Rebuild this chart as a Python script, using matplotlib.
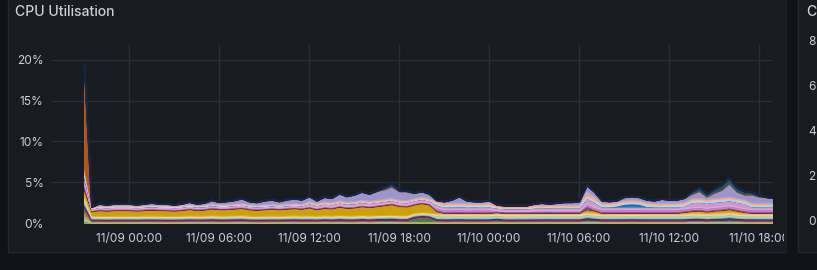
"""Grafana style stacked CPU utilisation panel."""

import matplotlib

matplotlib.use("Agg")
import matplotlib.dates as mdates
import matplotlib.pyplot as plt
import pandas as pd
from matplotlib.colors import to_rgba
from matplotlib.lines import Line2D
from matplotlib.patches import Rectangle
from matplotlib.ticker import FuncFormatter

W, H = 817, 270

# sample times, every 30 min from 11/08 21:00
times = pd.date_range("2024-11-08 21:00", periods=93, freq="30min")
x_start = pd.Timestamp("2024-11-08 18:52")
x_end = pd.Timestamp("2024-11-10 18:52")
tick_times = pd.date_range("2024-11-09 00:00", periods=8, freq="6h")
y_ticks = [0, 5, 10, 15, 20]

# per-container CPU %, bottom of the stack first
green = [0.30, 0.06, 0.06, 0.05, 0.06, 0.06,
         0.06, 0.06, 0.07, 0.06, 0.06, 0.05, 0.06, 0.06, 0.06, 0.07, 0.06, 0.06,
         0.06, 0.06, 0.06, 0.07, 0.06, 0.06, 0.05, 0.06, 0.06, 0.06, 0.07, 0.06,
         0.06, 0.06, 0.07, 0.06, 0.06, 0.06, 0.06, 0.07, 0.06, 0.06, 0.07, 0.07,
         0.06, 0.06, 0.07, 0.06, 0.06, 0.06, 0.05, 0.06, 0.06, 0.06, 0.06, 0.05,
         0.06, 0.06, 0.06, 0.05, 0.06, 0.06, 0.06, 0.06, 0.07, 0.06, 0.06, 0.06,
         0.06, 0.08, 0.07, 0.06, 0.06, 0.06, 0.06, 0.07, 0.06, 0.06, 0.06, 0.06,
         0.06, 0.06, 0.06, 0.07, 0.07, 0.06, 0.07, 0.07, 0.08, 0.07, 0.06, 0.06,
         0.06, 0.06, 0.06]
light_yellow = [0.20, 0.05, 0.05, 0.05, 0.05, 0.05,
                0.05, 0.05, 0.05, 0.04, 0.05, 0.05, 0.05, 0.05, 0.06, 0.05, 0.05, 0.05,
                0.05, 0.05, 0.05, 0.05, 0.05, 0.04, 0.05, 0.05, 0.05, 0.05, 0.05, 0.05,
                0.05, 0.05, 0.06, 0.05, 0.05, 0.05, 0.05, 0.05, 0.05, 0.06, 0.06, 0.06,
                0.05, 0.05, 0.05, 0.05, 0.05, 0.05, 0.05, 0.05, 0.05, 0.04, 0.05, 0.05,
                0.05, 0.05, 0.05, 0.05, 0.05, 0.05, 0.05, 0.05, 0.05, 0.05, 0.05, 0.05,
                0.05, 0.07, 0.06, 0.05, 0.05, 0.05, 0.05, 0.05, 0.05, 0.05, 0.05, 0.05,
                0.05, 0.05, 0.05, 0.06, 0.06, 0.05, 0.06, 0.06, 0.07, 0.06, 0.05, 0.05,
                0.05, 0.05, 0.05]
cyan = [0.30, 0.07, 0.07, 0.07, 0.07, 0.07,
        0.07, 0.07, 0.07, 0.08, 0.07, 0.07, 0.07, 0.07, 0.07, 0.07, 0.08, 0.07,
        0.07, 0.07, 0.08, 0.07, 0.07, 0.07, 0.07, 0.07, 0.07, 0.08, 0.07, 0.07,
        0.07, 0.07, 0.07, 0.07, 0.08, 0.07, 0.07, 0.08, 0.07, 0.08, 0.08, 0.09,
        0.08, 0.07, 0.07, 0.07, 0.07, 0.07, 0.07, 0.07, 0.07, 0.07, 0.07, 0.07,
        0.07, 0.07, 0.07, 0.07, 0.07, 0.07, 0.07, 0.07, 0.07, 0.07, 0.07, 0.07,
        0.07, 0.09, 0.08, 0.07, 0.07, 0.07, 0.07, 0.07, 0.07, 0.07, 0.07, 0.07,
        0.07, 0.07, 0.07, 0.08, 0.08, 0.07, 0.08, 0.08, 0.09, 0.08, 0.07, 0.07,
        0.07, 0.07, 0.07]
orange = [0.50, 0.05, 0.05, 0.05, 0.05, 0.05,
          0.05, 0.05, 0.05, 0.05, 0.05, 0.05, 0.05, 0.05, 0.05, 0.05, 0.05, 0.06,
          0.05, 0.05, 0.05, 0.06, 0.05, 0.05, 0.05, 0.05, 0.05, 0.05, 0.05, 0.05,
          0.05, 0.05, 0.05, 0.05, 0.06, 0.05, 0.05, 0.06, 0.05, 0.06, 0.06, 0.06,
          0.05, 0.05, 0.05, 0.05, 0.05, 0.05, 0.05, 0.05, 0.06, 0.05, 0.05, 0.05,
          0.05, 0.05, 0.05, 0.05, 0.05, 0.05, 0.05, 0.05, 0.05, 0.05, 0.05, 0.05,
          0.05, 0.07, 0.06, 0.05, 0.05, 0.05, 0.05, 0.05, 0.05, 0.05, 0.05, 0.05,
          0.05, 0.05, 0.05, 0.06, 0.06, 0.05, 0.06, 0.06, 0.07, 0.06, 0.05, 0.05,
          0.05, 0.05, 0.05]
dark_green = [0.20, 0.03, 0.03, 0.03, 0.03, 0.03,
              0.03, 0.03, 0.03, 0.03, 0.03, 0.03, 0.03, 0.03, 0.03, 0.03, 0.03, 0.03,
              0.03, 0.03, 0.03, 0.03, 0.03, 0.03, 0.03, 0.03, 0.03, 0.03, 0.03, 0.03,
              0.03, 0.03, 0.03, 0.03, 0.03, 0.03, 0.03, 0.03, 0.03, 0.03, 0.03, 0.03,
              0.03, 0.05, 0.35, 0.45, 0.40, 0.05, 0.03, 0.03, 0.03, 0.03, 0.03, 0.03,
              0.03, 0.12, 0.03, 0.03, 0.03, 0.03, 0.03, 0.03, 0.03, 0.03, 0.03, 0.03,
              0.03, 0.03, 0.03, 0.03, 0.03, 0.03, 0.03, 0.03, 0.03, 0.03, 0.03, 0.03,
              0.03, 0.03, 0.03, 0.03, 0.03, 0.03, 0.03, 0.03, 0.03, 0.03, 0.03, 0.03,
              0.03, 0.03, 0.03]
red = [0.30, 0.06, 0.06, 0.06, 0.06, 0.06,
       0.06, 0.06, 0.06, 0.06, 0.06, 0.06, 0.06, 0.06, 0.06, 0.06, 0.06, 0.07,
       0.06, 0.06, 0.06, 0.07, 0.06, 0.06, 0.06, 0.06, 0.06, 0.06, 0.06, 0.06,
       0.06, 0.06, 0.06, 0.06, 0.07, 0.06, 0.06, 0.07, 0.06, 0.07, 0.07, 0.07,
       0.06, 0.06, 0.06, 0.06, 0.06, 0.06, 0.06, 0.06, 0.06, 0.06, 0.06, 0.06,
       0.06, 0.06, 0.06, 0.06, 0.06, 0.06, 0.06, 0.06, 0.06, 0.06, 0.06, 0.06,
       0.06, 0.08, 0.07, 0.06, 0.06, 0.06, 0.06, 0.06, 0.06, 0.06, 0.06, 0.06,
       0.06, 0.06, 0.06, 0.07, 0.07, 0.06, 0.07, 0.07, 0.08, 0.07, 0.06, 0.06,
       0.06, 0.06, 0.06]
dark_purple = [0.50, 0.22, 0.22, 0.21, 0.22, 0.22,
               0.22, 0.21, 0.22, 0.23, 0.22, 0.22, 0.21, 0.22, 0.23, 0.22, 0.22, 0.24,
               0.23, 0.23, 0.24, 0.24, 0.22, 0.22, 0.23, 0.23, 0.22, 0.23, 0.24, 0.23,
               0.24, 0.22, 0.24, 0.23, 0.25, 0.24, 0.24, 0.25, 0.24, 0.25, 0.26, 0.27,
               0.25, 0.25, 0.24, 0.25, 0.24, 0.25, 0.25, 0.25, 0.26, 0.25, 0.25, 0.25,
               0.25, 0.24, 0.24, 0.24, 0.24, 0.24, 0.25, 0.25, 0.25, 0.25, 0.25, 0.25,
               0.25, 0.30, 0.28, 0.25, 0.25, 0.25, 0.26, 0.26, 0.26, 0.25, 0.25, 0.25,
               0.25, 0.25, 0.26, 0.27, 0.28, 0.26, 0.27, 0.28, 0.30, 0.27, 0.26, 0.26,
               0.25, 0.25, 0.25]
steel = [0.30, 0.12, 0.12, 0.12, 0.12, 0.12,
         0.12, 0.12, 0.12, 0.12, 0.12, 0.12, 0.12, 0.12, 0.13, 0.12, 0.12, 0.13,
         0.12, 0.12, 0.13, 0.13, 0.12, 0.12, 0.12, 0.12, 0.12, 0.12, 0.13, 0.12,
         0.13, 0.12, 0.12, 0.12, 0.13, 0.12, 0.12, 0.13, 0.12, 0.13, 0.13, 0.14,
         0.13, 0.12, 0.12, 0.12, 0.12, 0.12, 0.12, 0.12, 0.12, 0.12, 0.12, 0.12,
         0.12, 0.12, 0.12, 0.12, 0.12, 0.12, 0.12, 0.12, 0.12, 0.12, 0.12, 0.12,
         0.12, 0.14, 0.13, 0.12, 0.12, 0.12, 0.12, 0.12, 0.12, 0.12, 0.12, 0.12,
         0.12, 0.12, 0.12, 0.13, 0.13, 0.12, 0.13, 0.13, 0.14, 0.13, 0.12, 0.12,
         0.12, 0.12, 0.12]
pale_green = [0.30, 0.10, 0.10, 0.10, 0.10, 0.10,
              0.10, 0.10, 0.10, 0.10, 0.10, 0.10, 0.10, 0.10, 0.10, 0.10, 0.10, 0.10,
              0.10, 0.10, 0.10, 0.10, 0.10, 0.10, 0.10, 0.10, 0.10, 0.10, 0.10, 0.10,
              0.10, 0.10, 0.10, 0.10, 0.10, 0.10, 0.10, 0.10, 0.10, 0.10, 0.10, 0.10,
              0.10, 0.10, 0.10, 0.10, 0.10, 0.25, 0.25, 0.25, 0.25, 0.25, 0.25, 0.25,
              0.25, 0.25, 0.25, 0.25, 0.25, 0.25, 0.25, 0.25, 0.25, 0.25, 0.25, 0.25,
              0.25, 0.25, 0.25, 0.25, 0.25, 0.25, 0.25, 0.25, 0.25, 0.25, 0.25, 0.25,
              0.25, 0.25, 0.25, 0.25, 0.25, 0.25, 0.25, 0.25, 0.25, 0.25, 0.25, 0.25,
              0.25, 0.25, 0.25]
cream = [0.30, 0.12, 0.12, 0.12, 0.12, 0.12,
         0.12, 0.12, 0.12, 0.12, 0.12, 0.12, 0.12, 0.12, 0.12, 0.12, 0.12, 0.12,
         0.12, 0.12, 0.12, 0.12, 0.12, 0.12, 0.12, 0.12, 0.12, 0.12, 0.12, 0.12,
         0.12, 0.12, 0.12, 0.12, 0.12, 0.12, 0.12, 0.12, 0.12, 0.12, 0.12, 0.12,
         0.12, 0.12, 0.12, 0.12, 0.12, 0.25, 0.25, 0.25, 0.25, 0.25, 0.25, 0.25,
         0.25, 0.25, 0.25, 0.25, 0.25, 0.25, 0.25, 0.25, 0.25, 0.25, 0.25, 0.25,
         0.25, 0.25, 0.25, 0.25, 0.25, 0.25, 0.25, 0.25, 0.25, 0.25, 0.25, 0.25,
         0.25, 0.25, 0.25, 0.25, 0.25, 0.25, 0.25, 0.25, 0.25, 0.25, 0.25, 0.25,
         0.25, 0.25, 0.25]
yellow = [0.80, 0.55, 0.70, 0.65, 0.70, 0.70,
          0.70, 0.65, 0.70, 0.75, 0.70, 0.70, 0.65, 0.70, 0.80, 0.70, 0.75, 0.85,
          0.80, 0.80, 0.85, 0.90, 0.80, 0.75, 0.80, 0.85, 0.80, 0.85, 0.90, 0.85,
          1.00, 0.80, 0.95, 0.90, 1.05, 0.95, 1.00, 1.10, 1.05, 1.10, 1.20, 1.30,
          1.15, 1.10, 1.05, 1.10, 1.00, 0.25, 0.05, 0.05, 0.05, 0.05, 0.05, 0.05,
          0.05, 0.05, 0.05, 0.05, 0.05, 0.05, 0.05, 0.05, 0.05, 0.05, 0.05, 0.05,
          0.05, 0.35, 0.25, 0.05, 0.05, 0.05, 0.05, 0.05, 0.05, 0.05, 0.05, 0.05,
          0.05, 0.05, 0.15, 0.20, 0.25, 0.20, 0.25, 0.30, 0.35, 0.25, 0.15, 0.05,
          0.05, 0.05, 0.05]
dark_red = [0.30, 0.07, 0.07, 0.07, 0.07, 0.07,
            0.07, 0.07, 0.07, 0.07, 0.07, 0.07, 0.07, 0.07, 0.07, 0.07, 0.07, 0.07,
            0.07, 0.07, 0.07, 0.07, 0.07, 0.07, 0.07, 0.07, 0.07, 0.07, 0.07, 0.07,
            0.07, 0.07, 0.07, 0.07, 0.07, 0.07, 0.07, 0.07, 0.07, 0.07, 0.07, 0.07,
            0.07, 0.07, 0.07, 0.07, 0.07, 0.07, 0.07, 0.07, 0.07, 0.07, 0.07, 0.07,
            0.07, 0.07, 0.07, 0.07, 0.07, 0.07, 0.07, 0.07, 0.07, 0.07, 0.07, 0.07,
            0.07, 0.07, 0.07, 0.07, 0.07, 0.07, 0.07, 0.07, 0.07, 0.07, 0.07, 0.07,
            0.07, 0.07, 0.07, 0.07, 0.07, 0.07, 0.07, 0.07, 0.07, 0.07, 0.07, 0.07,
            0.07, 0.07, 0.07]
purple = [0.40, 0.10, 0.10, 0.10, 0.10, 0.10,
          0.10, 0.10, 0.10, 0.10, 0.10, 0.10, 0.10, 0.10, 0.10, 0.10, 0.10, 0.10,
          0.10, 0.10, 0.10, 0.10, 0.10, 0.10, 0.10, 0.10, 0.10, 0.10, 0.10, 0.10,
          0.10, 0.10, 0.10, 0.10, 0.10, 0.10, 0.10, 0.10, 0.10, 0.10, 0.10, 0.10,
          0.10, 0.10, 0.10, 0.10, 0.10, 0.14, 0.14, 0.14, 0.14, 0.14, 0.14, 0.14,
          0.14, 0.14, 0.14, 0.14, 0.14, 0.14, 0.14, 0.14, 0.14, 0.14, 0.14, 0.14,
          0.14, 0.34, 0.14, 0.14, 0.14, 0.14, 0.14, 0.14, 0.14, 0.14, 0.14, 0.14,
          0.14, 0.14, 0.14, 0.14, 0.14, 0.14, 0.14, 0.14, 0.14, 0.14, 0.14, 0.14,
          0.14, 0.14, 0.14]
lilac = [0.20, 0.02, 0.08, 0.08, 0.08, 0.08,
         0.08, 0.08, 0.08, 0.08, 0.08, 0.08, 0.08, 0.08, 0.08, 0.08, 0.08, 0.08,
         0.08, 0.08, 0.08, 0.08, 0.08, 0.08, 0.08, 0.08, 0.08, 0.08, 0.08, 0.08,
         0.08, 0.08, 0.08, 0.08, 0.08, 0.08, 0.08, 0.08, 0.08, 0.08, 0.08, 0.08,
         0.08, 0.08, 0.08, 0.08, 0.08, 0.25, 0.25, 0.25, 0.25, 0.25, 0.25, 0.25,
         0.25, 0.05, 0.05, 0.05, 0.05, 0.05, 0.12, 0.12, 0.12, 0.12, 0.12, 0.12,
         0.12, 0.25, 0.25, 0.25, 0.25, 0.25, 0.25, 0.25, 0.25, 0.25, 0.25, 0.25,
         0.25, 0.25, 0.25, 0.25, 0.25, 0.25, 0.25, 0.25, 0.25, 0.25, 0.25, 0.25,
         0.25, 0.25, 0.25]
pink = [0.40, 0.15, 0.15, 0.15, 0.15, 0.15,
        0.15, 0.15, 0.15, 0.15, 0.15, 0.15, 0.15, 0.15, 0.15, 0.15, 0.15, 0.15,
        0.15, 0.15, 0.15, 0.15, 0.15, 0.15, 0.15, 0.15, 0.15, 0.15, 0.15, 0.15,
        0.25, 0.25, 0.25, 0.25, 0.25, 0.25, 0.25, 0.25, 0.25, 0.25, 0.25, 0.25,
        0.25, 0.25, 0.25, 0.25, 0.25, 0.30, 0.30, 0.30, 0.30, 0.30, 0.30, 0.30,
        0.30, 0.30, 0.30, 0.30, 0.30, 0.30, 0.30, 0.30, 0.30, 0.30, 0.30, 0.30,
        0.30, 0.70, 0.60, 0.30, 0.30, 0.30, 0.30, 0.30, 0.30, 0.30, 0.30, 0.30,
        0.30, 0.30, 0.30, 0.60, 0.60, 0.60, 0.60, 0.60, 0.60, 0.60, 0.60, 0.30,
        0.30, 0.30, 0.30]
blue = [0.50, 0.03, 0.03, 0.03, 0.03, 0.03,
        0.03, 0.03, 0.03, 0.03, 0.03, 0.03, 0.03, 0.03, 0.03, 0.03, 0.03, 0.03,
        0.03, 0.03, 0.03, 0.03, 0.03, 0.03, 0.03, 0.03, 0.03, 0.03, 0.03, 0.03,
        0.03, 0.03, 0.03, 0.03, 0.03, 0.03, 0.03, 0.03, 0.03, 0.03, 0.03, 0.03,
        0.03, 0.03, 0.03, 0.03, 0.03, 0.03, 0.03, 0.03, 0.03, 0.03, 0.03, 0.03,
        0.03, 0.03, 0.03, 0.03, 0.03, 0.03, 0.03, 0.03, 0.03, 0.03, 0.03, 0.03,
        0.03, 0.03, 0.03, 0.03, 0.03, 0.15, 0.35, 0.40, 0.35, 0.10, 0.03, 0.03,
        0.03, 0.03, 0.03, 0.03, 0.03, 0.03, 0.03, 0.03, 0.03, 0.03, 0.03, 0.03,
        0.03, 0.03, 0.03]
sky = [0.20, 0.02, 0.05, 0.05, 0.05, 0.05,
       0.05, 0.05, 0.05, 0.05, 0.05, 0.05, 0.05, 0.05, 0.05, 0.05, 0.05, 0.05,
       0.05, 0.05, 0.05, 0.05, 0.05, 0.05, 0.05, 0.05, 0.05, 0.05, 0.05, 0.05,
       0.05, 0.05, 0.05, 0.05, 0.05, 0.05, 0.05, 0.05, 0.05, 0.05, 0.05, 0.05,
       0.05, 0.05, 0.05, 0.05, 0.05, 0.20, 0.20, 0.20, 0.20, 0.20, 0.20, 0.20,
       0.20, 0.04, 0.04, 0.04, 0.04, 0.04, 0.10, 0.10, 0.10, 0.10, 0.10, 0.10,
       0.10, 0.20, 0.20, 0.20, 0.20, 0.20, 0.20, 0.20, 0.20, 0.20, 0.20, 0.20,
       0.20, 0.20, 0.20, 0.20, 0.20, 0.20, 0.20, 0.20, 0.20, 0.20, 0.20, 0.20,
       0.20, 0.20, 0.20]
salmon = [0.30, 0.12, 0.12, 0.12, 0.12, 0.12,
          0.12, 0.12, 0.12, 0.12, 0.12, 0.12, 0.12, 0.12, 0.12, 0.12, 0.12, 0.12,
          0.12, 0.12, 0.12, 0.12, 0.12, 0.12, 0.12, 0.12, 0.12, 0.12, 0.12, 0.12,
          0.20, 0.20, 0.20, 0.20, 0.20, 0.20, 0.20, 0.20, 0.20, 0.20, 0.20, 0.20,
          0.20, 0.20, 0.20, 0.20, 0.20, 0.25, 0.25, 0.25, 0.25, 0.25, 0.25, 0.25,
          0.25, 0.25, 0.25, 0.25, 0.25, 0.25, 0.25, 0.25, 0.25, 0.25, 0.25, 0.25,
          0.25, 0.55, 0.45, 0.25, 0.25, 0.25, 0.25, 0.25, 0.25, 0.25, 0.25, 0.25,
          0.25, 0.25, 0.25, 0.25, 0.25, 0.25, 0.25, 0.25, 0.25, 0.25, 0.25, 0.25,
          0.25, 0.25, 0.25]
lavender = [0.40, 0.01, 0.15, 0.10, 0.15, 0.15,
            0.15, 0.10, 0.15, 0.20, 0.15, 0.15, 0.10, 0.15, 0.25, 0.15, 0.20, 0.40,
            0.25, 0.35, 0.40, 0.55, 0.35, 0.30, 0.45, 0.50, 0.35, 0.50, 0.55, 0.50,
            0.57, 0.27, 0.52, 0.47, 0.82, 0.62, 0.77, 0.97, 0.82, 1.07, 1.16, 1.36,
            1.01, 1.07, 0.60, 0.65, 0.50, 0.05, 0.15, 0.35, 0.75, 0.25, 0.15, 0.15,
            0.25, 0.02, 0.01, 0.01, 0.01, 0.01, 0.08, 0.18, 0.08, 0.18, 0.28, 0.28,
            0.38, 0.75, 0.55, 0.25, 0.15, 0.13, 0.33, 0.38, 0.33, 0.28, 0.25, 0.45,
            0.35, 0.35, 0.45, 0.54, 0.84, 0.29, 0.64, 0.94, 1.59, 0.79, 0.59, 0.99,
            0.74, 0.65, 0.55]
brown = [12.6, 0.03, 0.03, 0.03, 0.03, 0.03,
         0.03, 0.03, 0.03, 0.03, 0.03, 0.03, 0.03, 0.03, 0.03, 0.03, 0.03, 0.03,
         0.03, 0.03, 0.03, 0.03, 0.03, 0.03, 0.03, 0.03, 0.03, 0.03, 0.03, 0.03,
         0.03, 0.03, 0.03, 0.03, 0.03, 0.03, 0.03, 0.03, 0.03, 0.03, 0.03, 0.03,
         0.03, 0.03, 0.03, 0.03, 0.03, 0.03, 0.03, 0.03, 0.03, 0.03, 0.03, 0.03,
         0.03, 0.03, 0.03, 0.03, 0.03, 0.03, 0.03, 0.03, 0.03, 0.03, 0.03, 0.03,
         0.03, 0.03, 0.03, 0.03, 0.03, 0.03, 0.03, 0.03, 0.03, 0.03, 0.03, 0.03,
         0.03, 0.03, 0.03, 0.03, 0.03, 0.03, 0.03, 0.03, 0.03, 0.03, 0.03, 0.03,
         0.03, 0.03, 0.03]
teal = [0.20, 0.04, 0.04, 0.04, 0.04, 0.04,
        0.04, 0.04, 0.04, 0.04, 0.04, 0.04, 0.04, 0.04, 0.04, 0.04, 0.04, 0.04,
        0.04, 0.04, 0.04, 0.04, 0.04, 0.04, 0.04, 0.04, 0.04, 0.04, 0.04, 0.04,
        0.04, 0.04, 0.04, 0.04, 0.04, 0.04, 0.04, 0.04, 0.04, 0.04, 0.25, 0.35,
        0.15, 0.04, 0.04, 0.04, 0.04, 0.04, 0.04, 0.04, 0.04, 0.04, 0.04, 0.04,
        0.04, 0.04, 0.04, 0.04, 0.04, 0.04, 0.04, 0.04, 0.04, 0.04, 0.04, 0.04,
        0.04, 0.04, 0.04, 0.04, 0.04, 0.04, 0.04, 0.04, 0.04, 0.04, 0.04, 0.04,
        0.04, 0.04, 0.04, 0.30, 0.45, 0.35, 0.45, 0.60, 0.70, 0.50, 0.40, 0.30,
        0.15, 0.04, 0.04]
navy = [0.10, 0.02, 0.02, 0.02, 0.02, 0.02,
        0.02, 0.02, 0.02, 0.02, 0.02, 0.02, 0.02, 0.02, 0.02, 0.02, 0.02, 0.02,
        0.02, 0.02, 0.02, 0.02, 0.02, 0.02, 0.02, 0.02, 0.02, 0.02, 0.02, 0.02,
        0.02, 0.02, 0.02, 0.02, 0.02, 0.02, 0.02, 0.02, 0.02, 0.02, 0.02, 0.02,
        0.02, 0.02, 0.02, 0.02, 0.02, 0.02, 0.02, 0.02, 0.02, 0.02, 0.02, 0.02,
        0.02, 0.02, 0.02, 0.02, 0.02, 0.02, 0.02, 0.02, 0.02, 0.02, 0.02, 0.02,
        0.02, 0.02, 0.02, 0.02, 0.02, 0.02, 0.02, 0.02, 0.02, 0.02, 0.02, 0.02,
        0.02, 0.02, 0.02, 0.02, 0.02, 0.02, 0.02, 0.02, 0.02, 0.02, 0.02, 0.02,
        0.02, 0.02, 0.02]

layers = [green, light_yellow, cyan, orange, dark_green, red, dark_purple, steel,
          pale_green, cream, yellow, dark_red, purple, lilac, pink, blue, sky,
          salmon, lavender, brown, teal, navy]
colors = ["#7EB26D", "#EAB839", "#6ED0E0", "#EF843C", "#508642", "#E24D42",
          "#4B2F72", "#82B5D8", "#B7DBAB", "#F4D598", "#E0AE0C", "#890F02",
          "#705DA0", "#D683CE", "#E5A8E2", "#1F78C1", "#BADFF4", "#F9BA8F",
          "#AEA2E0", "#C15C17", "#2F575E", "#15264A"]

PAGE_BG = "#111217"
PANEL_BG = "#181b1f"
BORDER = "#25282d"
GRID = "#2c2f35"
TEXT = "#ccccdc"
FONT = ["Inter", "DejaVu Sans"]


def px_rect(x0, y0, x1, y1, **kw):
    """Rectangle given in pixel coordinates (origin top left)."""
    return Rectangle((x0 / W, 1 - y1 / H), (x1 - x0) / W, (y1 - y0) / H,
                     transform=fig.transFigure, **kw)


fig = plt.figure(figsize=(W / 100, H / 100), dpi=100, facecolor=PAGE_BG)

# left panel, behind the plot
fig.add_artist(px_rect(7.5, -5, 786.5, 251.5, facecolor=PANEL_BG, edgecolor=BORDER,
                       linewidth=1, zorder=-5))

ax = fig.add_axes([52 / W, 1 - 223 / H, 720 / W, 178 / H])
ax.set_facecolor("none")
polys = ax.stackplot(times, *layers, colors=colors, linewidth=0.7, zorder=3)
for poly, c in zip(polys, colors):
    poly.set_facecolor(to_rgba(c, 0.9))
    poly.set_edgecolor(c)
polys[-1].set_linewidth(1.3)

ax.set_xlim(x_start, x_end)
ax.set_ylim(0, 21.84)
ax.set_yticks(y_ticks)
ax.yaxis.set_major_formatter(FuncFormatter(lambda v, _: f"{v:.0f}%"))
ax.set_xticks(tick_times)
ax.xaxis.set_major_formatter(mdates.DateFormatter("%m/%d %H:%M"))
ax.grid(True, color=GRID, linewidth=1)
ax.set_axisbelow(True)
for s in ax.spines.values():
    s.set_visible(False)
ax.tick_params(length=0, colors=TEXT, labelsize=8.6)
ax.tick_params(axis="y", pad=6)
ax.tick_params(axis="x", pad=7)
for lab in ax.get_xticklabels() + ax.get_yticklabels():
    lab.set_family(FONT)

fig.text(15 / W, 1 - 12 / H, "CPU Utilisation", color=TEXT, fontsize=10.1,
         fontweight="medium", family=FONT, va="center", ha="left")

# panel edge: hide the overflowing last x label like grafana does
fig.add_artist(px_rect(784, 226, 786.5, 250, facecolor=PANEL_BG, edgecolor="none", zorder=10))
fig.add_artist(Line2D([786.5 / W, 786.5 / W], [1 - 251.5 / H, 1], color=BORDER,
                      linewidth=1, transform=fig.transFigure, zorder=10))
fig.add_artist(px_rect(787, -5, 830, 275, facecolor=PAGE_BG, edgecolor="none", zorder=10))
fig.add_artist(px_rect(797.5, -5, 830, 251.5, facecolor=PANEL_BG, edgecolor=BORDER,
                       linewidth=1, zorder=11))
fig.text(806 / W, 1 - 12 / H, "CPU", color=TEXT, fontsize=10.1, fontweight="medium",
         family=FONT, va="center", ha="left", zorder=12)
for val, ypx in zip(["8", "6", "4", "2", "0"], [42, 87, 132, 177, 222]):
    fig.text(808 / W, 1 - ypx / H, val, color=TEXT, fontsize=8.6, family=FONT,
             va="center", ha="left", zorder=12)

fig.savefig("out.png", dpi=100, facecolor=PAGE_BG)
